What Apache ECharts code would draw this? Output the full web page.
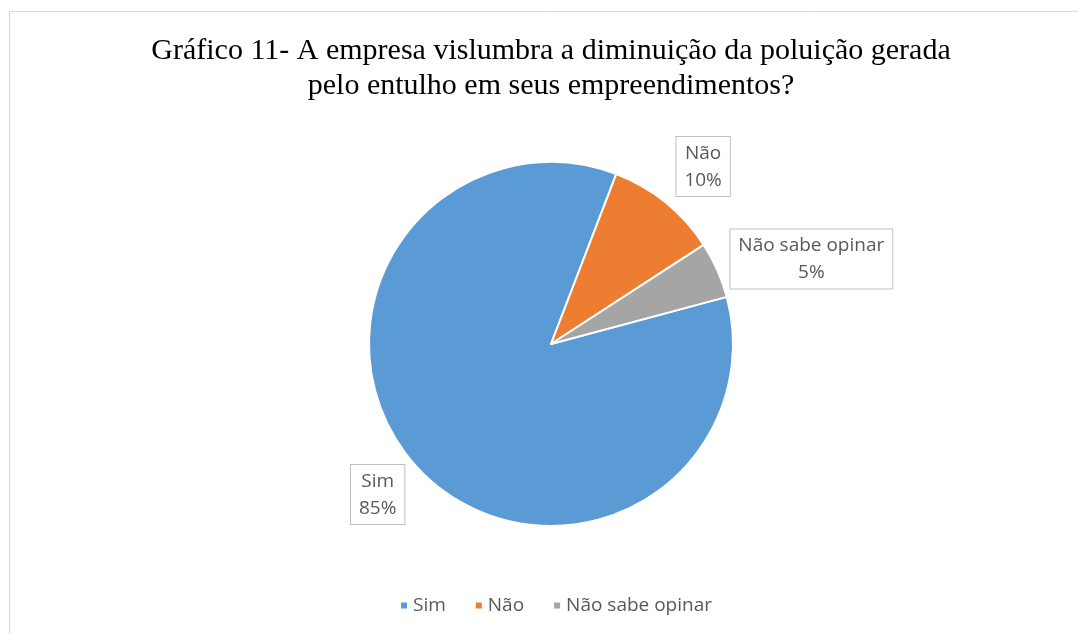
<!DOCTYPE html>
<html>
<head>
<meta charset="utf-8">
<script src="https://cdn.jsdelivr.net/npm/echarts@6/dist/echarts.min.js"></script>
<style>
  html, body { margin: 0; padding: 0; background: #fff; }
  #chart { width: 1078px; height: 634px; }
</style>
</head>
<body>
<div id="chart"></div>
<script>
var categories = ['Sim', 'Não', 'Não sabe opinar'];
var percents = [85, 10, 5];
var colors = ['#5b9bd5', '#ed7d31', '#a5a5a5'];

var pieData = categories.map(function (name, i) {
    return { name: name, value: percents[i], itemStyle: { color: colors[i] } };
});

var labelFont = '"Open Sans", "Noto Sans", sans-serif';
// small nudges so the boxes sit where Excel's best-fit put them
var labelNudge = [[10, 14], [-8, -19], [-12, -2]];

var option = {
    backgroundColor: '#fff',
    animation: false,
    graphic: [{
        type: 'rect',
        shape: { x: 9.5, y: 11.5, width: 1200, height: 800 },
        style: { fill: 'none', stroke: '#d9d9d9', lineWidth: 1 },
        silent: true
    }],
    title: {
        text: 'Gráfico 11- A empresa vislumbra a diminuição da poluição gerada\npelo entulho em seus empreendimentos?',
        left: 546,
        top: 29,
        textAlign: 'center',
        textStyle: {
            fontFamily: '"Liberation Serif", "Times New Roman", serif',
            fontSize: 30,
            fontWeight: 'normal',
            color: '#000',
            lineHeight: 35
        }
    },
    legend: {
        bottom: 14,
        left: 394,
        itemWidth: 8,
        itemHeight: 8,
        itemGap: 28,
        icon: 'rect',
        textStyle: { fontFamily: labelFont, fontSize: 19, color: '#595959' },
        data: categories
    },
    series: [{
        type: 'pie',
        center: [551, 344],
        radius: 182,
        startAngle: 15,
        clockwise: true,
        avoidLabelOverlap: false,
        itemStyle: { borderColor: '#fff', borderWidth: 2 },
        label: {
            show: true,
            position: 'outside',
            formatter: '{t|{b}}\n{t|{c}%}',
            rich: {
                t: {
                    fontFamily: labelFont,
                    fontSize: 19,
                    lineHeight: 27,
                    color: '#595959',
                    align: 'center'
                }
            },
            backgroundColor: '#fff',
            borderColor: '#bfbfbf',
            borderWidth: 1,
            padding: [3, 8, 2, 8]
        },
        labelLine: { show: false, length: 22, length2: 0 },
        labelLayout: function (params) {
            var n = labelNudge[params.dataIndex];
            return { dx: n[0], dy: n[1] };
        },
        data: pieData
    }]
};

var myChart = echarts.init(document.getElementById('chart'));
myChart.setOption(option);
</script>
</body>
</html>
